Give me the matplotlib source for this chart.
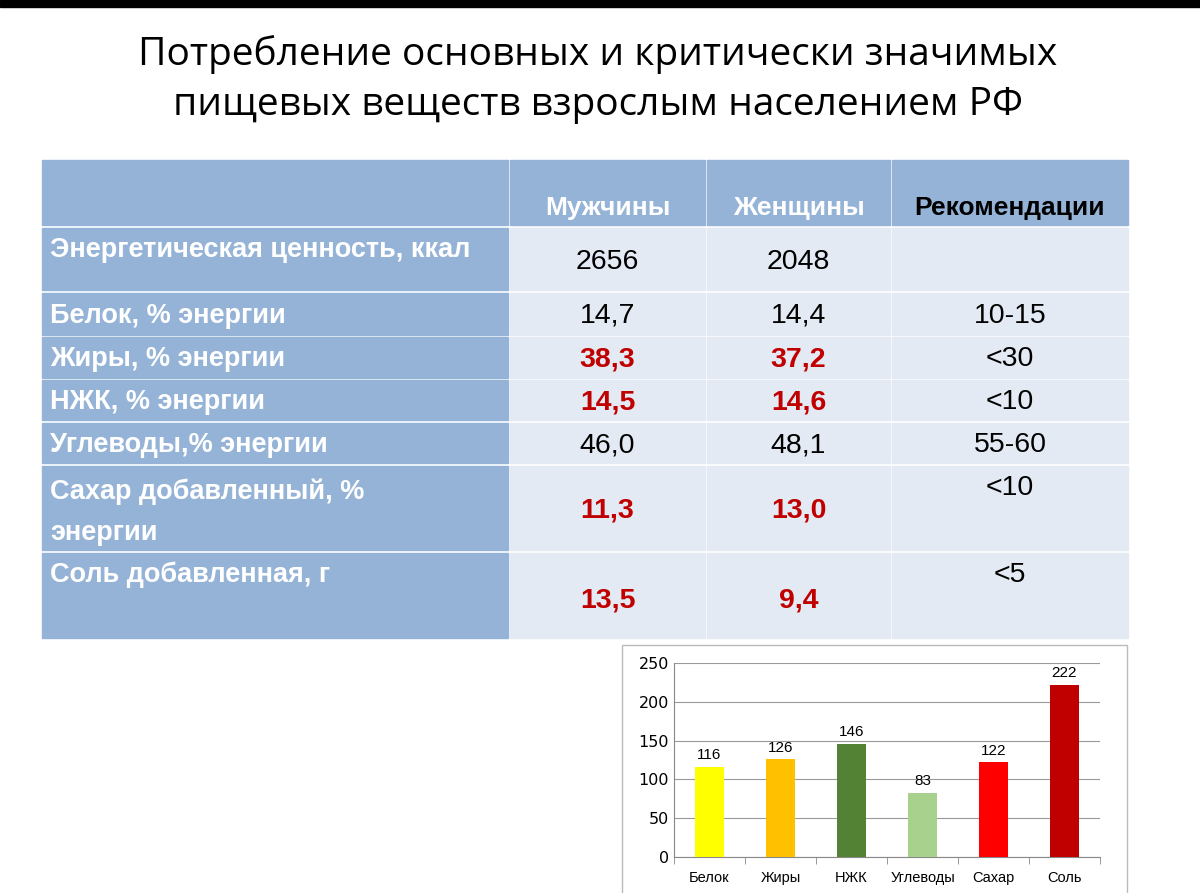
import matplotlib
matplotlib.use("Agg")
import matplotlib.pyplot as plt
from matplotlib.patches import Rectangle

title_lines = ["Потребление основных и критически значимых", "пищевых веществ взрослым населением РФ"]
col_headers = ["Мужчины", "Женщины", "Рекомендации"]
row_labels = ["Энергетическая ценность, ккал", "Белок, % энергии", "Жиры, % энергии",
              "НЖК, % энергии", "Углеводы,% энергии", "Сахар добавленный, %\nэнергии",
              "Соль добавленная, г"]
men = ["2656", "14,7", "38,3", "14,5", "46,0", "11,3", "13,5"]
women = ["2048", "14,4", "37,2", "14,6", "48,1", "13,0", "9,4"]
recs = ["", "10-15", "<30", "<10", "55-60", "<10", "<5"]
highlight = [False, False, True, True, False, True, True]

bar_cats = ["Белок", "Жиры", "НЖК", "Углеводы", "Сахар", "Соль"]
bar_vals = [116, 126, 146, 83, 122, 222]
bar_colors = ["#FFFF00", "#FFC000", "#548235", "#A9D18E", "#FF0000", "#C00000"]

fig = plt.figure(figsize=(12, 8.93), dpi=100)
cv = fig.add_axes([0, 0, 1, 1])
cv.set_xlim(0, 1200); cv.set_ylim(893, 0); cv.axis("off")
cv.add_patch(Rectangle((0, 0), 1200, 7, color="black"))

for i, t in enumerate(title_lines):
    cv.text(598, 55 + i * 50, t, ha="center", va="center", fontsize=28, family="Open Sans")

cols = [(42, 508), (510, 705), (707, 890), (892, 1128)]
rows = [(228, 290), (293, 335), (337, 378), (380, 420), (423, 463), (466, 550), (553, 638)]
blue = "#95B3D7"; light = "#E4EAF3"
for (x0, x1) in cols:
    cv.add_patch(Rectangle((x0, 160), x1 - x0, 65, color=blue))
for j, h in enumerate(col_headers):
    x0, x1 = cols[j + 1]
    cv.text((x0 + x1) / 2, 208, h, ha="center", va="center", fontsize=19, fontweight="bold",
            color="black" if j == 2 else "white", family="Liberation Sans")
for i, (y0, y1) in enumerate(rows):
    cv.add_patch(Rectangle((42, y0), 466, y1 - y0, color=blue))
    for (x0, x1) in cols[1:]:
        cv.add_patch(Rectangle((x0, y0), x1 - x0, y1 - y0, color=light))
    lbl_y = y0 + 22 if i in (0, 6) else ((y0 + y1) / 2 + 2 if i != 5 else y0 + 46)
    cv.text(50, lbl_y, row_labels[i], ha="left", va="center", fontsize=19.5, fontweight="bold",
            color="white", family="Liberation Sans", linespacing=1.75)
    vy = (y0 + y1) / 2 + 2
    if i == 0: vy = 262
    if i == 5: vy = 511
    if i == 6: vy = 600
    c = "#C00000" if highlight[i] else "black"
    w = "bold" if highlight[i] else "normal"
    for j, v in enumerate([men[i], women[i]]):
        x0, x1 = cols[j + 1]
        cv.text((x0 + x1) / 2, vy, v, ha="center", va="center", fontsize=20.5, color=c,
                fontweight=w, family="Liberation Sans")
    ry = vy
    if i in (5, 6): ry = y0 + 22
    x0, x1 = cols[3]
    cv.text((x0 + x1) / 2, ry, recs[i], ha="center", va="center", fontsize=20.5, family="Liberation Sans")

cv.add_patch(Rectangle((622, 645), 505, 260, fill=False, edgecolor="#BBBBBB", lw=1))

ax = fig.add_axes([674 / 1200, (893 - 857) / 893, 426 / 1200, 194 / 893])
ax.bar(range(len(bar_vals)), bar_vals, color=bar_colors, width=0.4, zorder=3)
ax.set_ylim(0, 250); ax.set_xlim(-0.5, 5.5)
ax.set_yticks(range(0, 251, 50))
ax.grid(axis="y", color="#999999", lw=0.8, zorder=0)
ax.set_xticks(range(len(bar_cats)))
ax.set_xticklabels(bar_cats, fontsize=10.5, family="Liberation Sans")
ax.set_xticks([x - 0.5 for x in range(7)], minor=True)
ax.tick_params(axis="x", which="major", length=0, pad=10)
ax.tick_params(axis="x", which="minor", length=5, color="#888888")
ax.tick_params(axis="y", length=0, labelsize=11.5)
for s in ["top", "right"]:
    ax.spines[s].set_visible(False)
ax.spines["left"].set_color("#888888"); ax.spines["bottom"].set_color("#888888")
for i, v in enumerate(bar_vals):
    ax.text(i, v + 6, str(v), ha="center", va="bottom", fontsize=11, family="Liberation Sans")

fig.savefig("out.png", dpi=100)
